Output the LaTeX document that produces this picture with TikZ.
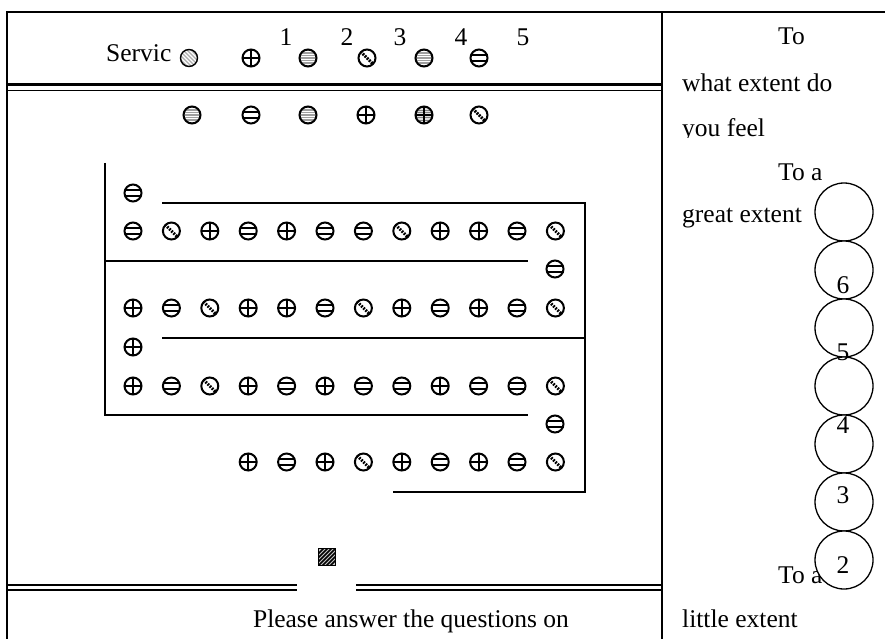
\documentclass[tikz,border=0pt]{standalone}
\usepackage{fontspec}
\setmainfont{Liberation Serif}
\usetikzlibrary{positioning}

\tikzset{
  txt/.style={inner sep=0pt, anchor=base west, font=\fontsize{25.5}{30}\selectfont},
  num/.style={inner sep=0pt, anchor=base, font=\fontsize{25.5}{30}\selectfont},
  dot/.style={circle, draw, fill=white, line width=2pt, minimum size=17pt, inner sep=0pt},
  hbar/.style={dot, path picture={
      \draw[line width=2.2pt] ([yshift=2.9pt]path picture bounding box.west) -- ([yshift=2.9pt]path picture bounding box.east);
      \draw[line width=2.2pt] ([yshift=-2.9pt]path picture bounding box.west) -- ([yshift=-2.9pt]path picture bounding box.east);}},
  cbar/.style={dot, path picture={
      \draw[line width=2.2pt] (path picture bounding box.north) -- (path picture bounding box.south)
        (path picture bounding box.west) -- (path picture bounding box.east);}},
  sbar/.style={dot, path picture={
      \draw[line width=3pt, dash pattern=on 1.8pt off 1.2pt] (path picture bounding box.north west) -- (path picture bounding box.south east);}},
  grayhbar/.style={dot, fill=gray!75, path picture={
      \foreach \d in {-6,-3.5,-1,1.5,4,6.5}
        \draw[white, line width=0.7pt] ([yshift=\d pt]path picture bounding box.west) -- ([yshift=\d pt]path picture bounding box.east);}},
  grayslash/.style={dot, fill=gray!65, line width=1.4pt, path picture={
      \foreach \d in {-8,-4,0,4,8}
        \draw[white, line width=1.2pt] ([xshift=\d pt]path picture bounding box.north west) -- ([xshift=\d pt]path picture bounding box.south east);}},
  graycbar/.style={dot, fill=gray!25, path picture={
      \foreach \d in {-5,-2.5,2.5,5}
        \draw[gray, line width=0.7pt] ([yshift=\d pt]path picture bounding box.west) -- ([yshift=\d pt]path picture bounding box.east);
      \draw[line width=1.8pt] (path picture bounding box.north) -- (path picture bounding box.south)
        (path picture bounding box.west) -- (path picture bounding box.east);}},
  ring/.style={circle, draw, fill=white, line width=1.3pt, minimum size=58pt, inner sep=0pt, outer sep=0pt},
  rule/.style={line width=1.4pt}
}

\begin{document}
\begin{tikzpicture}[x=1pt,y=-1pt]
  \useasboundingbox (0,0) rectangle (885,639);

  \draw[line width=1.6pt] (7,639) -- (7,12) -- (885,12);
  \draw[line width=2pt] (662,12) -- (662,639);

  \node[txt] (servic) at (106,62) {Servic};
  \foreach \t/\x [count=\i] in {grayslash/189,cbar/251,grayhbar/308,sbar/367,grayhbar/424,hbar/479}
    \node[\t] (top\i) at (\x,58) {};
  \foreach \n/\x in {1/286,2/347,3/400,4/461,5/523}
    \node[num] (n\n) at (\x,46) {\n};

  \draw[line width=3pt] (7,85) -- (662,85);
  \draw[line width=1.8pt] (7,90.5) -- (662,90.5);

  \foreach \t/\x [count=\i] in {grayhbar/192,hbar/251,grayhbar/308,cbar/366,graycbar/424,sbar/479}
    \node[\t] (sec\i) at (\x,115) {};

  % grid
  \draw[rule] (105,163) -- (105,415) -- (528,415);
  \draw[rule] (105,261) -- (528,261);
  \draw[rule] (162,203) -- (585,203) -- (585,492) -- (393,492);
  \draw[rule] (162,338) -- (585,338);

  \node[hbar] (a0) at (133,193) {};
  \foreach \t [count=\i from 0] in {hbar,sbar,cbar,hbar,cbar,hbar,hbar,sbar,cbar,cbar,hbar,sbar}
    \node[\t] (a\i) at (133+38.4*\i,231) {};
  \node[hbar] (b0) at (555,269) {};
  \foreach \t [count=\i from 0] in {cbar,hbar,sbar,cbar,cbar,hbar,sbar,cbar,hbar,cbar,hbar,sbar}
    \node[\t] (b\i) at (133+38.4*\i,308) {};
  \node[cbar] (c0) at (133,347) {};
  \foreach \t [count=\i from 0] in {cbar,hbar,sbar,cbar,hbar,cbar,hbar,hbar,cbar,hbar,hbar,sbar}
    \node[\t] (c\i) at (133+38.4*\i,386) {};
  \node[hbar] (d0) at (555,424) {};
  \foreach \t [count=\i from 3] in {cbar,hbar,cbar,sbar,cbar,hbar,cbar,hbar,sbar}
    \node[\t] (d\i) at (133+38.4*\i,462) {};

  \node[draw, line width=1.2pt, fill=gray!45, minimum size=17pt, inner sep=0pt, path picture={
      \foreach \d in {-12,-8,-4,0,4,8,12}
        \draw[line width=1.5pt] ([xshift=\d pt]path picture bounding box.south west) -- ([xshift=\d pt]path picture bounding box.north east);}]
    (box) at (327,557) {};

  \draw[line width=2.2pt] (7,585) -- (297,585) (356,585) -- (662,585);
  \draw[line width=1.8pt] (7,590) -- (297,590) (356,590) -- (662,590);
  \node[txt, anchor=base] (please) at (411,627) {Please answer the questions on};

  % right column
  \node[txt] (to) at (778,45) {To};
  \node[txt] (what) at (682,92) {what extent do};
  \begin{scope}
    \clip (670,100) rectangle (800,138);
    \node[txt] (you) at (682,137) {you feel};
  \end{scope}
  \node[txt] (toa) at (778,180) {To a};
  \node[txt] (great) at (682,222) {great extent};
  \node[txt] (toa2) at (778,583) {To a};
  \node[txt] (little) at (682,627) {little extent};

  \node[ring] (r1) at (844,212) {};
  \node[ring, below=0pt of r1] (r2) {};
  \node[ring, below=0pt of r2] (r3) {};
  \node[ring, below=0pt of r3] (r4) {};
  \node[ring, below=0pt of r4] (r5) {};
  \node[ring, below=0pt of r5] (r6) {};
  \node[ring, below=0pt of r6] (r7) {};

  \node[num] (six) at (843,293) {6};
  \node[num] (five) at (843,360) {5};
  \node[num] (four) at (843,433) {4};
  \node[num] (three) at (843,503) {3};
  \node[num] (two) at (843,573) {2};
\end{tikzpicture}
\end{document}
